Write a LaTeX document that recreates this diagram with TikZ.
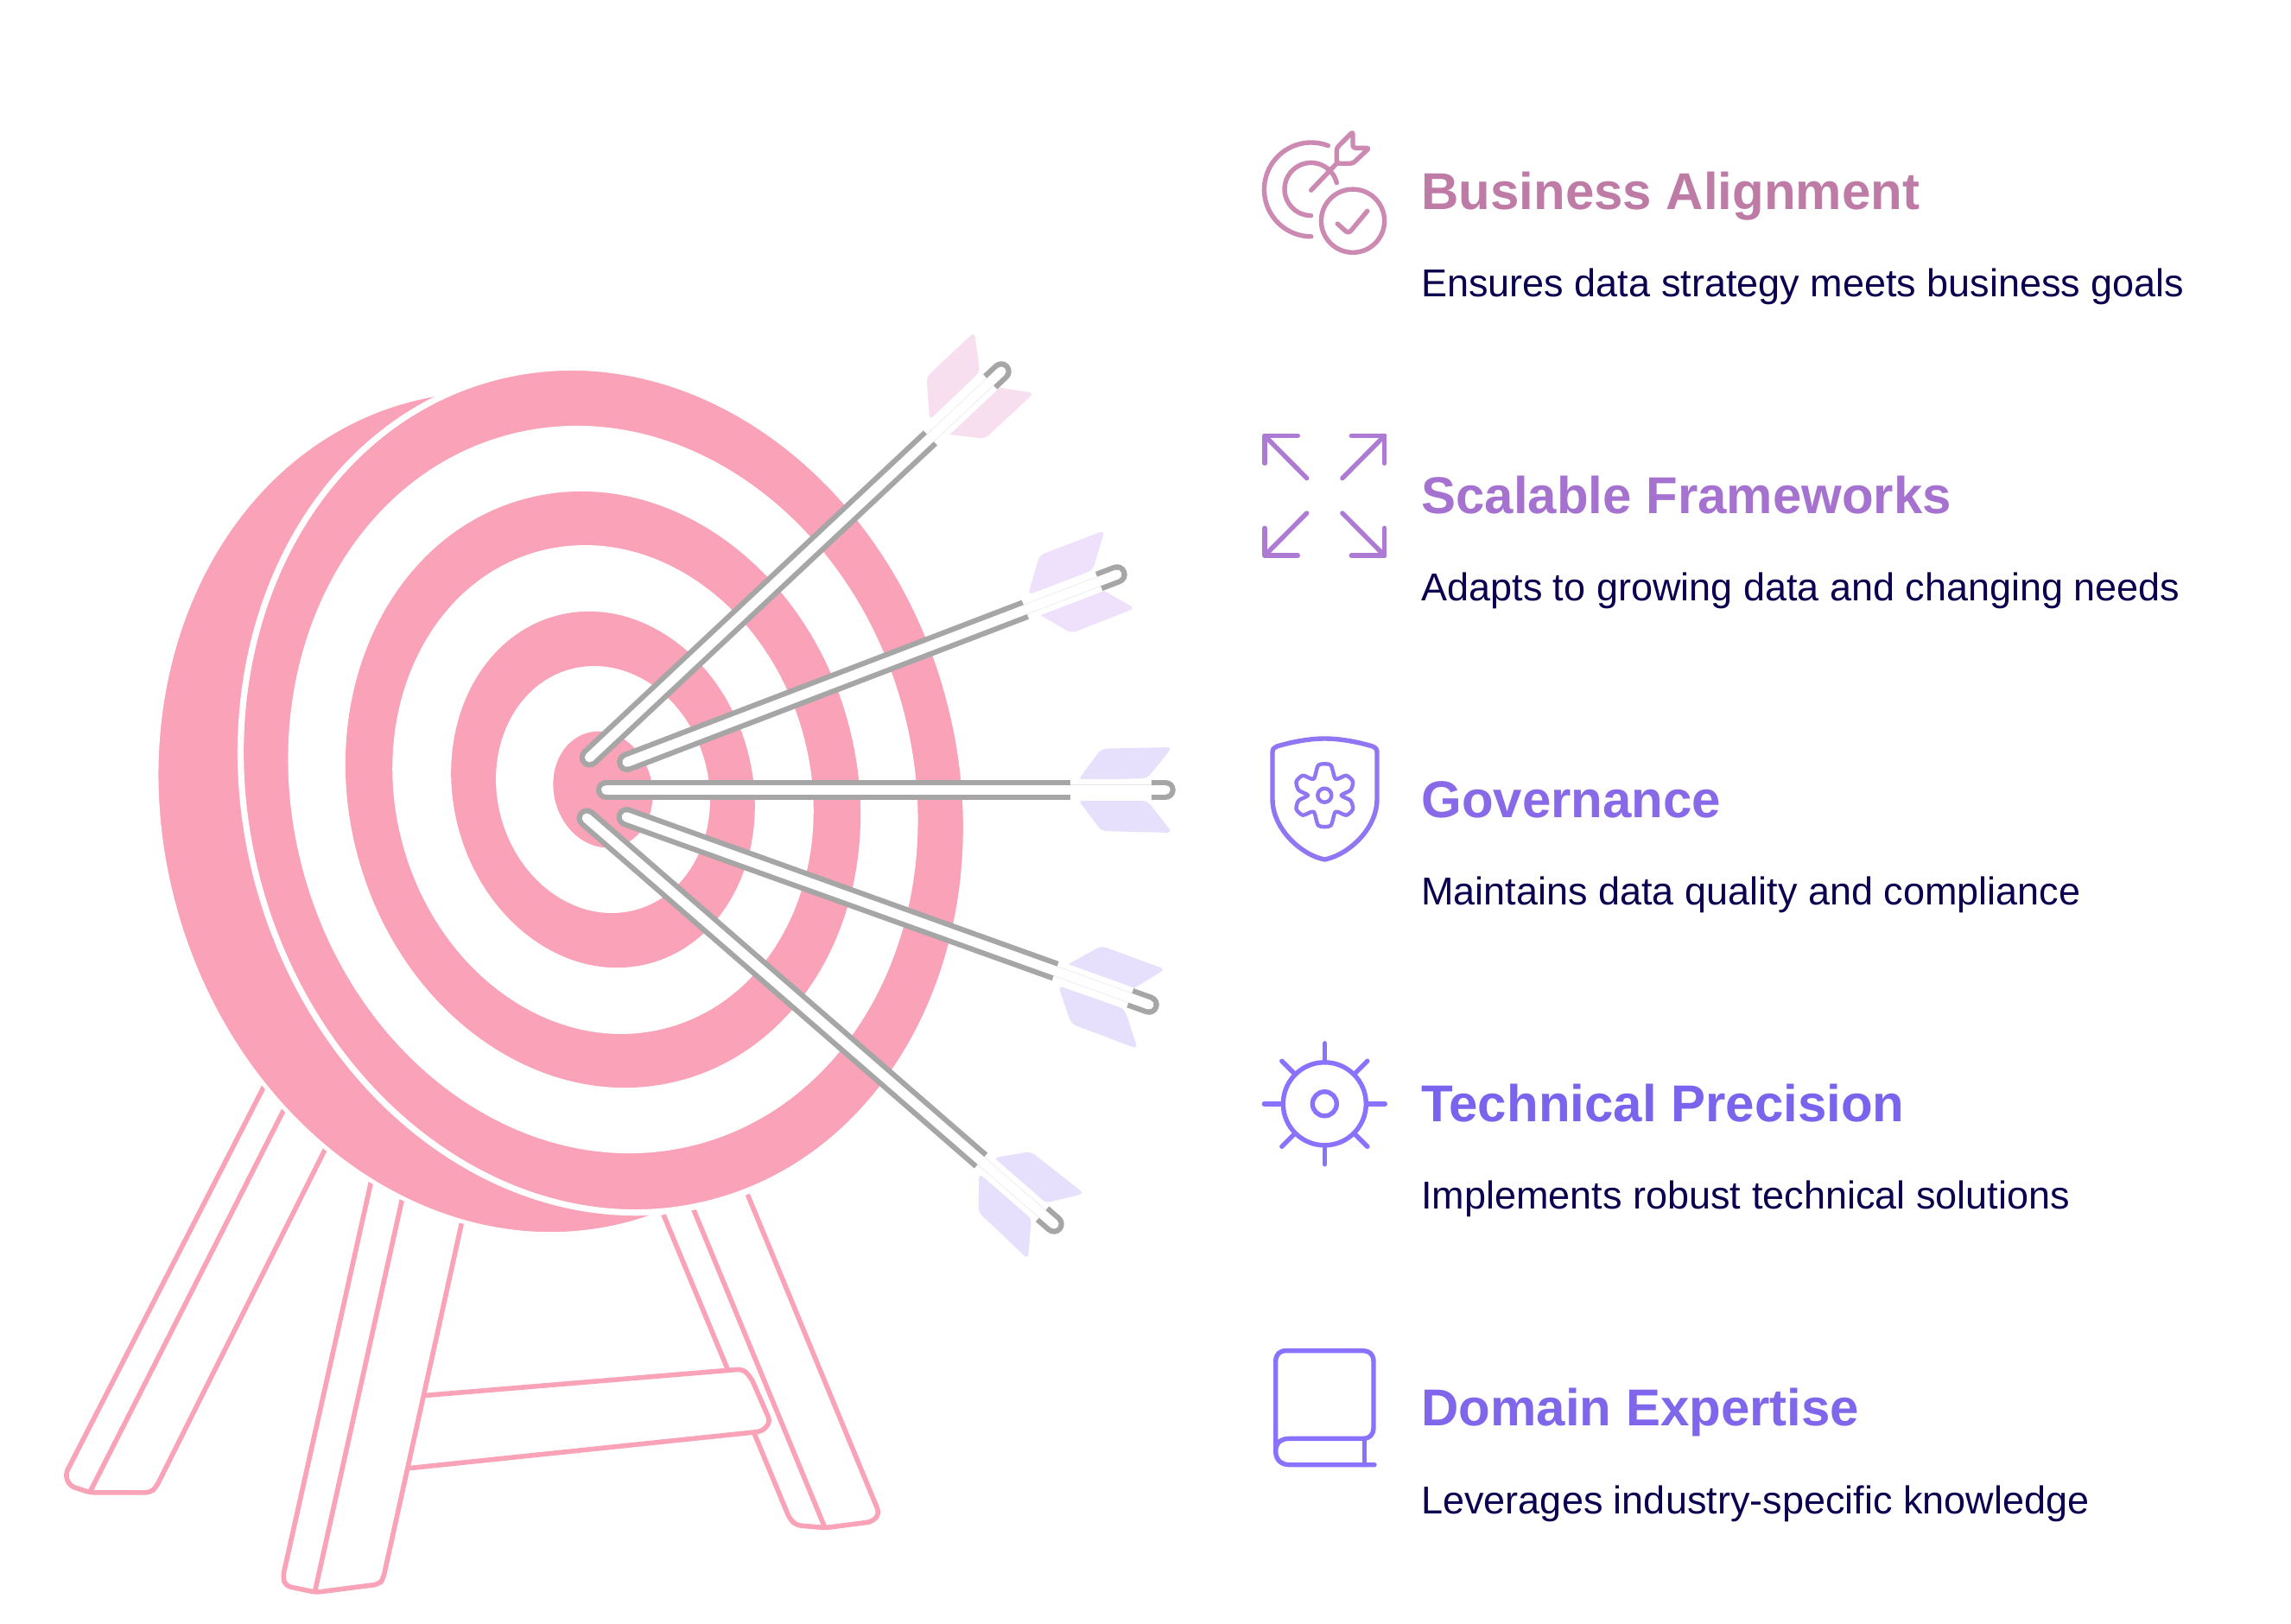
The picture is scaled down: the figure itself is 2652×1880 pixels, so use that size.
\documentclass[tikz,border=0pt]{standalone}
\usepackage{fontspec}
\setmainfont{Liberation Sans}
\usetikzlibrary{calc}
\definecolor{targetpink}{HTML}{FAA2B7}
\definecolor{shaftgray}{HTML}{A6A6A6}
\definecolor{inktext}{HTML}{0B0050}
\definecolor{bizcolor}{HTML}{BD7BA5}
\definecolor{scalecolor}{HTML}{A672CF}
\definecolor{govcolor}{HTML}{8869E8}
\definecolor{techcolor}{HTML}{7A64EE}
\definecolor{domcolor}{HTML}{7F66EA}
\definecolor{bizicon}{HTML}{CC89B2}
\definecolor{scaleicon}{HTML}{AD7BD4}
\definecolor{govicon}{HTML}{9076F2}
\definecolor{techicon}{HTML}{8A72FF}
\definecolor{vanepink}{HTML}{F7DFEF}
\definecolor{vanelilac}{HTML}{EFE0FB}
\definecolor{vaneviolet}{HTML}{E6E0FD}
\tikzset {
  % one unit is one pixel of the reference
  x=0.5pt, y=-0.5pt,
  % stand
  legline/.style = {draw=targetpink, line width=2.8pt, fill=white, rounded corners=3pt},
  legedge/.style = {draw=targetpink, line width=2.8pt},
  % arrows
  shaftline/.style = {shaftgray, line width=11.8pt, line cap=round},
  shaftcore/.style = {white, line width=5.6pt, line cap=round},
  shaftlight/.style = {white, line width=12.4pt},
  shafthair/.style = {draw=black!10, line width=.3pt, double=white, double distance=5.4pt},
  vane/.style = {rounded corners=3pt},
  % icons
  icon/.style = {line width=2.7pt, line cap=round, line join=round},
  % texts
  headtext/.style = {anchor=base west, inner sep=0pt, font=\fontsize{30}{35}\selectfont\bfseries},
  desctext/.style = {anchor=base west, inner sep=0pt, text=inktext, font=\fontsize{22.5}{27}\selectfont},
}
\begin{document}
\begin{tikzpicture}
  \path[fill=white, use as bounding box] (0,0) rectangle (2652,1880);

  % stand
  \draw[legline] (311,1247) -- (75.5,1707) -- (80.6,1720) -- (104.2,1727.8) -- (174.4,1727.8) -- (180.7,1721.6) -- (382,1319) -- cycle;
  \draw[legedge] (334,1274) -- (104.2,1727);
  \draw[legline] (858,1365) -- (1018,1752.2) -- (1009.8,1761.6) -- (955.6,1768.6) -- (921.8,1765.7) -- (914.2,1758.4) -- (763,1394) -- cycle;
  \draw[legedge] (797,1386) -- (954.3,1767);
  \draw[legline] (485,1616) -- (860,1584.9) -- (869.5,1595) -- (891.8,1646) -- (882.3,1657) -- (470,1700);
  \draw[legline] (432,1357) -- (327.4,1825.7) -- (330.6,1835.9) -- (365.7,1843.3) -- (439,1833.9) -- (443.5,1827.8) -- (537,1404) -- cycle;
  \draw[legedge] (468,1377) -- (364.4,1843);

  % target
  \fill[targetpink, draw=white, line width=2.4pt] (600.5,940) circle[x radius=493.4, y radius=413.5, rotate=-75];
  \fill[targetpink, draw=white, line width=3.6pt] (698.5,914.5) circle[x radius=494, y radius=414, rotate=-75];
  \foreach \rx/\ry/\ringcol in {425.1/359.7/white, 348.4/294.1/targetpink, 285.7/240.4/white, 208.3/173.2/targetpink, 144.3/122.3/white, 68/56.8/targetpink}
    \fill[\ringcol] (698,914) circle[x radius=\rx, y radius=\ry, rotate=-75];

  % arrows
  \coordinate (tipa) at (682.5,876.8);
  \coordinate (nocka) at (1159,430);
  \coordinate (tipb) at (725.9,882.2);
  \coordinate (nockb) at (1293,665);
  \coordinate (tipc) at (701.7,914.3);
  \coordinate (nockc) at (1349,914.3);
  \coordinate (tipd) at (725.3,945.8);
  \coordinate (nockd) at (1330,1163);
  \coordinate (tipe) at (679.3,947.1);
  \coordinate (nocke) at (1220,1417);

  \fill[vanepink, vane] (1076,486) -- (1072.7,436) -- (1128,384.4) -- (1134.3,430.4) -- cycle;
  \fill[vanepink, vane] (1091.7,502) -- (1140,507.9) -- (1197,455) -- (1150,447.6) -- cycle;
  \fill[vanelilac, vane] (1190,688.7) -- (1203.3,642.8) -- (1278.7,614) -- (1265,660) -- cycle;
  \fill[vanelilac, vane] (1199,708.8) -- (1240,733) -- (1313.7,704.2) -- (1273.3,681.2) -- cycle;
  \fill[vaneviolet, vane] (1248,903) -- (1275,866.7) -- (1357,865) -- (1328,901) -- cycle;
  \fill[vaneviolet, vane] (1248,926) -- (1275,962) -- (1357,964) -- (1328,927) -- cycle;
  \fill[vaneviolet, vane] (1233.3,1118) -- (1275,1095) -- (1348.7,1122) -- (1309.3,1146.2) -- cycle;
  \fill[vaneviolet, vane] (1225,1141) -- (1240,1185.2) -- (1317,1214.2) -- (1301.7,1168) -- cycle;
  \fill[vaneviolet, vane] (1149.3,1340.7) -- (1193,1333) -- (1255,1381.7) -- (1210,1392.7) -- cycle;
  \fill[vaneviolet, vane] (1133.3,1358.3) -- (1132.7,1403.3) -- (1190,1457.7) -- (1194,1410) -- cycle;

  \foreach \tip/\nock/\sa/\sb in {tipa/nocka/.828/.973, tipb/nockb/.813/.963, tipc/nockc/.83/.975, tipd/nockd/.821/.964, tipe/nocke/.844/.975} {
    \draw[shaftline] (\tip) -- (\nock);
    \draw[shaftcore] (\tip) -- (\nock);
    \draw[shaftlight] ($(\tip)!\sa!(\nock)$) -- ($(\tip)!\sb!(\nock)$);
    \draw[shafthair] ($(\tip)!\sa!(\nock)$) -- ($(\tip)!\sb!(\nock)$);
  }

  % business alignment icon
  \begin{scope}[icon, draw=bizicon]
    \draw (1537.3,168.6) arc[start angle=69, end angle=270, radius=27.2pt];
    \draw (1547.3,211.6) arc[start angle=14, end angle=270, radius=15.3pt];
    \draw (1517.7,220.2) -- (1547.3,189.2);
    \draw[rounded corners=1.5pt] (1547.3,189.2) -- (1547.3,171.3) -- (1566,152.4) -- (1566,171.3) -- (1585,171.3) -- (1566,189.2) -- cycle;
    \draw (1566,255.7) circle[radius=18.3pt];
    \draw[rounded corners=2pt] (1548.3,259.1) -- (1561,270.5) -- (1582.7,244.3);
  \end{scope}

  % scalable frameworks icon
  \foreach \sx/\sy in {1/1, -1/1, 1/-1, -1/-1} {
    \begin{scope}[icon, draw=scaleicon, shift={(1533.3,573.8)}, xscale=\sx, yscale=\sy]
      \draw (-31,-69.3) -- (-69.3,-69.3) -- (-69.3,-37.5);
      \draw (-69.3,-69.3) -- (-20.6,-20.2);
    \end{scope}
  }

  % governance icon
  \begin{scope}[icon, draw=govicon]
    \draw (1533.3,855) .. controls (1552,855) and (1572,859) .. (1589,864) .. controls (1592,865) and (1594,867) .. (1594,871) -- (1594,925) .. controls (1594,960) and (1560,990) .. (1533.3,995) .. controls (1507,990) and (1473,960) .. (1473,925) -- (1473,871) .. controls (1473,867) and (1475,865) .. (1478,864) .. controls (1495,859) and (1515,855) .. (1533.3,855) -- cycle;
    \draw[line width=2.2pt] (1533.3,920.7) circle[radius=4pt];
    \draw[line width=2.2pt, shift={(1533.3,920.7)}] plot[smooth cycle, tension=.45] coordinates {(-7,-35) (7,-35) (12.7,-19) (25,-23) (32.7,-16) (30,-6) (19.3,0) (30,6) (32.7,16) (25,23) (12.7,19) (7,35) (-7,35) (-12.7,19) (-25,23) (-32.7,16) (-30,6) (-19.3,0) (-30,-6) (-32.7,-16) (-25,-23) (-12.7,-19)};
  \end{scope}

  % technical precision icon
  \begin{scope}[icon, draw=techicon, shift={(1533.3,1277.8)}]
    \draw (0,0) circle[radius=24pt];
    \draw (0,0) circle[radius=7pt];
    \foreach \ang in {0,45,...,315}
      \draw (\ang:50) -- (\ang:70);
  \end{scope}

  % domain expertise icon
  \begin{scope}[icon, draw=techicon]
    \draw (1591,1695.7) -- (1493,1695.7) .. controls (1483,1695.7) and (1476.7,1690) .. (1476.7,1680) .. controls (1476.7,1670) and (1483,1665.3) .. (1493,1665.3) -- (1578,1665.3) .. controls (1586,1665.3) and (1590,1660) .. (1590,1653) -- (1590,1576) .. controls (1590,1568) and (1585,1563.6) .. (1578,1563.6) -- (1489,1563.6) .. controls (1481,1563.6) and (1476.7,1568) .. (1476.7,1576) -- (1476.7,1680);
    \draw (1579.3,1665.3) -- (1579.3,1695.7);
  \end{scope}

  % texts
  \node[headtext, text=bizcolor] (headbiz) at (1645,242) {Business Alignment};
  \node[desctext] (descbiz) at (1645,343) {Ensures data strategy meets business goals};
  \node[headtext, text=scalecolor] (headscale) at (1645,594) {Scalable Frameworks};
  \node[desctext] (descscale) at (1645,695) {Adapts to growing data and changing needs};
  \node[headtext, text=govcolor] (headgov) at (1645,946) {Governance};
  \node[desctext] (descgov) at (1645,1047) {Maintains data quality and compliance};
  \node[headtext, text=techcolor] (headtech) at (1645,1298) {Technical Precision};
  \node[desctext] (desctech) at (1645,1399) {Implements robust technical solutions};
  \node[headtext, text=domcolor] (headdom) at (1645,1650) {Domain Expertise};
  \node[desctext] (descdom) at (1645,1752) {Leverages industry-specific knowledge};
\end{tikzpicture}
\end{document}
